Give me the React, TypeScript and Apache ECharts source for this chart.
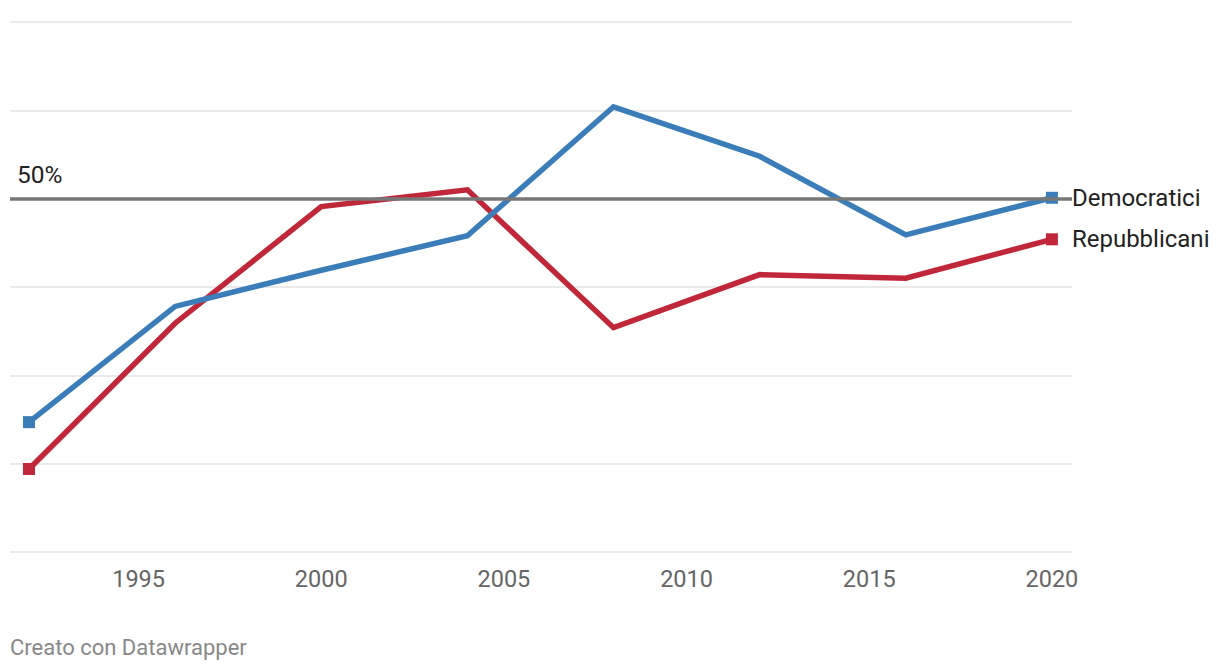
import React, { useEffect, useRef } from "react";
import * as echarts from "echarts";

const years = [1992, 1996, 2000, 2004, 2008, 2012, 2016, 2020];
const democratici = [24.7, 37.8, 41.9, 45.8, 60.4, 54.8, 45.9, 50.1];
const repubblicani = [19.4, 35.9, 49.1, 51.0, 35.4, 41.4, 41.0, 45.4];
const xTickLabels = [1995, 2000, 2005, 2010, 2015, 2020];
const referenceValue = 50;
const referenceLabel = "50%";
const seriesNames = ["Democratici", "Repubblicani"];
const footerText = "Creato con Datawrapper";

const FONT = "Roboto, 'Noto Sans', sans-serif";

function buildData(values: number[]) {
  return values.map((v, i) => {
    const isEnd = i === 0 || i === values.length - 1;
    return {
      value: [years[i], v],
      symbol: isEnd ? "rect" : "none",
      symbolSize: isEnd ? 12 : 0,
    };
  });
}

export default function App() {
  const ref = useRef<HTMLDivElement>(null);
  useEffect(() => {
    if (!ref.current) return;
    const chart = echarts.init(ref.current, undefined, { renderer: "svg" });
    const mkSeries = (name: string, values: number[], color: string, z: number) => ({
      name,
      type: "line",
      data: buildData(values),
      showSymbol: true,
      showAllSymbol: true,
      z,
      lineStyle: { color, width: 5.5, cap: "butt", join: "miter" },
      itemStyle: { color },
      emphasis: { disabled: true },
      endLabel: {
        show: true,
        formatter: name,
        color: "#222",
        fontSize: 24,
        fontFamily: FONT,
        distance: 20,
      },
    });
    chart.setOption({
      animation: false,
      grid: { left: 10, right: 148, top: 22, bottom: 118 },
      xAxis: {
        type: "value",
        min: 1991.48,
        max: 2020.55,
        axisLine: { show: false },
        axisTick: { show: false },
        splitLine: { show: false },
        axisLabel: {
          customValues: xTickLabels,
          color: "#666",
          fontSize: 23.5,
          fontFamily: FONT,
          margin: 15,
          formatter: (v: number) => String(v),
        },
      },
      yAxis: {
        type: "value",
        min: 10,
        max: 70,
        interval: 10,
        axisLine: { show: false },
        axisTick: { show: false },
        axisLabel: { show: false },
        splitLine: { show: true, lineStyle: { color: "#e3e3e3", width: 1.5 } },
      },
      series: [
        {
          ...mkSeries(seriesNames[1], repubblicani, "#c0283a", 3),
          markLine: {
            silent: true,
            symbol: "none",
            label: { show: false },
            lineStyle: { color: "#777", width: 3.5, type: "solid" },
            data: [{ yAxis: referenceValue }],
          },
        },
        mkSeries(seriesNames[0], democratici, "#3a7db8", 4),
      ],
      graphic: [
        {
          type: "text",
          left: 17,
          top: 162,
          style: { text: referenceLabel, fill: "#222", fontSize: 24.5, fontFamily: FONT },
        },
        {
          type: "text",
          left: 10,
          top: 636,
          style: { text: footerText, fill: "#888", fontSize: 22, fontFamily: FONT },
        },
      ],
    });
    return () => chart.dispose();
  }, []);
  return <div ref={ref} style={{ width: 1220, height: 670, position: "absolute", left: 0, top: 0 }} />;
}
